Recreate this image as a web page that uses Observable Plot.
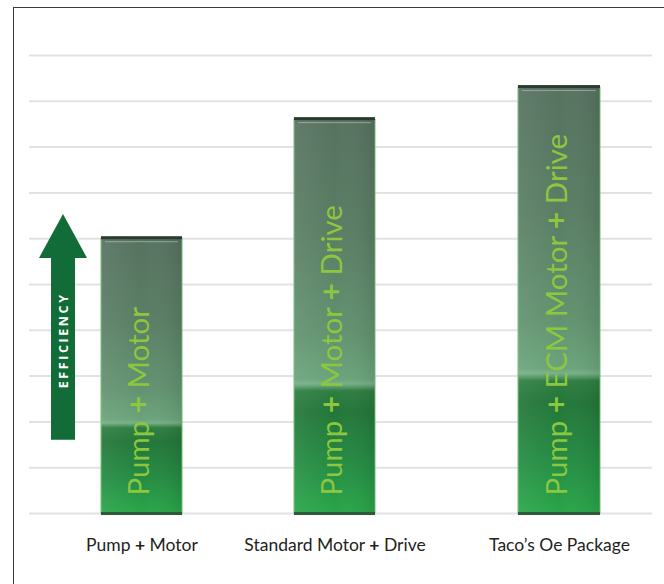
<!DOCTYPE html>
<html><head><meta charset="utf-8">
<script src="https://cdn.jsdelivr.net/npm/d3@7"></script>
<script src="https://cdn.jsdelivr.net/npm/@observablehq/plot@0.6"></script>
<style>
html,body{margin:0;padding:0;background:#fff;}
#wrap{position:relative;width:664px;height:584px;overflow:hidden;}
#wrap svg{position:absolute;left:0;top:0;}
#frame{position:absolute;left:12.5px;top:6.5px;right:-10px;bottom:-10px;border-left:1.5px solid #3d3d3d;border-top:1.5px solid #3d3d3d;pointer-events:none;}
</style></head><body><div id="wrap"><div id="frame"></div></div>
<script>
const categories = ["Pump + Motor", "Standard Motor + Drive", "Taco\u2019s Oe Package"];
const barTexts = ["Pump + Motor", "Pump + Motor + Drive", "Pump + ECM Motor + Drive"];
const efficiency = [6.0, 8.6, 9.3];
const gridTicks = [0, 1, 2, 3, 4, 5, 6, 7, 8, 9, 10];
const arrowLabel = "EFFICIENCY";

const data = categories.map((c, i) => ({i, category: c, text: barTexts[i], value: efficiency[i]}));

const defs = () => {
  const g = d3.create("svg:g");
  const d = g.append("defs");
  const lg = d.append("linearGradient").attr("id", "barFill")
    .attr("x1", 0).attr("y1", 0).attr("x2", 0).attr("y2", 1);
  [[0, "#567260"], [0.3, "#5a7e64"], [0.55, "#629370"], [0.66, "#6aa47b"],
   [0.672, "#78b088"], [0.69, "#2e7e41"], [0.74, "#237639"], [0.87, "#248b42"], [1, "#29a649"]]
    .forEach(([o, c]) => lg.append("stop").attr("offset", o).attr("stop-color", c));
  const sh = d.append("linearGradient").attr("id", "barSheen")
    .attr("x1", 0).attr("y1", 0).attr("x2", 1).attr("y2", 0);
  [[0, "#ffffff", 0.07], [0.5, "#ffffff", 0], [1, "#000000", 0.08]]
    .forEach(([o, c, a]) => sh.append("stop").attr("offset", o).attr("stop-color", c).attr("stop-opacity", a));
  return g.node();
};

const arrow = (index, scales, values, dims) => {
  const y = scales.y;
  const cx = dims.marginLeft + 34;
  const p = `M${cx - 12},${y(1.6)}V${y(5.57)}H${cx - 24}L${cx},${y(6.53)}L${cx + 24},${y(5.57)}H${cx + 12}V${y(1.6)}Z`;
  return d3.create("svg:path").attr("d", p).attr("fill", "#116c38").node();
};

const hw = 0.25;
const plot = Plot.plot({
  width: 664,
  height: 584,
  marginLeft: 29,
  marginRight: 12,
  marginTop: 55,
  marginBottom: 71,
  style: {background: "transparent"},
  x: {type: "linear", domain: [-0.25, 0.25, 0.75, 1.25, 1.75, 2.25], range: [101, 182, 294, 375, 518, 600], axis: null},
  y: {domain: [0, 10], axis: null},
  marks: [
    defs,
    Plot.ruleY(gridTicks, {y: d => d, stroke: "#e2e2e2", strokeWidth: 2}),
    arrow,
    Plot.text([arrowLabel], {frameAnchor: "left", dx: 34, y: 3.78, text: d => d, rotate: -90,
      textAnchor: "middle", fill: "white", fontWeight: "bold", fontSize: 12.5, fontFamily: "Open Sans"}),
    Plot.rect(data, {x1: d => d.i - hw, x2: d => d.i + hw, y1: 0, y2: "value",
      fill: "url(#barFill)", stroke: "#79c07d", strokeWidth: 1}),
    Plot.rect(data, {x1: d => d.i - hw, x2: d => d.i + hw, y1: 0, y2: "value", fill: "url(#barSheen)"}),
    Plot.rect(data, {x1: d => d.i - hw, x2: d => d.i + hw, y1: "value", y2: "value",
      insetTop: -2, insetBottom: -1, fill: "#2c3b30"}),
    Plot.rect(data, {x1: d => d.i - hw, x2: d => d.i + hw, y1: "value", y2: "value",
      insetTop: 3, insetBottom: -4, insetLeft: 4, insetRight: 4, fill: "#ffffff", fillOpacity: 0.35}),
    Plot.rect(data, {x1: d => d.i - hw, x2: d => d.i + hw, y1: 0, y2: 0,
      insetTop: -1, insetBottom: -2, fill: "#2d5a37"}),
    Plot.text(data, {x: "i", y: 0, text: "text", rotate: -90, textAnchor: "start", dy: -18, dx: -2,
      fill: "#8dc63f", fontSize: 29.5, fontFamily: "Lato", fontWeight: 400}),
    Plot.text(data, {x: "i", y: 0, text: "category", dy: 32, fontSize: 17.5,
      fontFamily: "Lato", fill: "#231f20"})
  ]
});

const svg = d3.select(plot);
svg.selectAll("text").each(function () {
  const t = this.textContent;
  if (t === arrowLabel) { this.setAttribute("letter-spacing", "2.6"); return; }
  if (t.includes("+") && !this.querySelector("tspan")) {
    const parts = t.split("+");
    this.textContent = "";
    const sel = d3.select(this);
    parts.forEach((p, k) => {
      if (k > 0) sel.append("tspan").attr("font-weight", "bold").text("+");
      sel.append("tspan").text(p);
    });
  }
});

const wrap = document.getElementById("wrap");
wrap.insertBefore(plot, wrap.firstChild);
</script>
</body></html>
